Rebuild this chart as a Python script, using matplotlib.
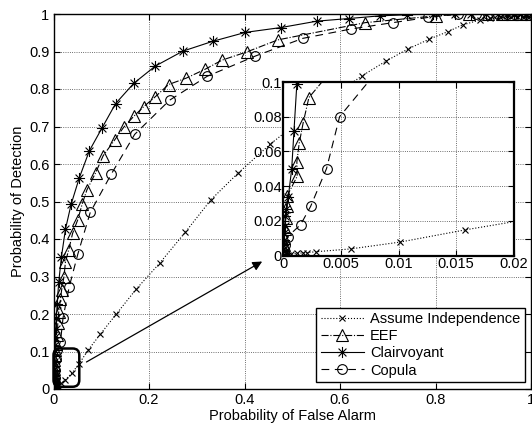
import matplotlib
matplotlib.use("Agg")
import matplotlib.pyplot as plt
from matplotlib.patches import FancyBboxPatch
from matplotlib.path import Path

plt.rcParams['font.family'] = ['Liberation Sans', 'DejaVu Sans']
plt.rcParams['font.size'] = 10.5

# ---- data ----
indep_x = [0, 0.00005, 0.0001, 0.0002, 0.0004, 0.0007, 0.0012, 0.0017, 0.0021, 0.0029, 0.00586,
           0.0101, 0.0158, 0.024, 0.039, 0.054, 0.0726, 0.098, 0.131, 0.173, 0.222, 0.276, 0.33,
           0.386, 0.454, 0.55, 0.646, 0.697, 0.743, 0.787, 0.826, 0.857, 0.893, 0.914, 0.935,
           0.95, 0.965, 0.978, 0.99, 1.0]
indep_y = [0, 0.0001, 0.0002, 0.0003, 0.0005, 0.0008, 0.0012, 0.0015, 0.0017, 0.0022, 0.0038,
           0.0077, 0.0148, 0.024, 0.043, 0.068, 0.104, 0.146, 0.199, 0.266, 0.335, 0.418, 0.505,
           0.575, 0.653, 0.75, 0.835, 0.875, 0.907, 0.933, 0.953, 0.971, 0.984, 0.989, 0.993,
           0.996, 0.998, 0.999, 1.0, 1.0]

eef_x = [0, 0.00003, 0.00006, 0.0001, 0.00015, 0.00025, 0.00037, 0.00037, 0.00123, 0.0012, 0.0014,
         0.00175, 0.00224, 0.004, 0.006, 0.008, 0.009, 0.011, 0.0146, 0.017, 0.022, 0.025, 0.032,
         0.040, 0.051, 0.060, 0.070, 0.088, 0.104, 0.128, 0.147, 0.168, 0.189, 0.212, 0.241,
         0.278, 0.318, 0.353, 0.405, 0.470, 0.653, 0.80, 0.87, 0.91, 0.94, 0.96, 0.98, 1.0]
eef_y = [0, 0.003, 0.006, 0.01, 0.015, 0.0215, 0.0283, 0.0345, 0.0457, 0.054, 0.0646,
         0.0766, 0.091, 0.105, 0.12, 0.145, 0.175, 0.206, 0.239, 0.264, 0.300, 0.339, 0.372,
         0.415, 0.452, 0.493, 0.531, 0.576, 0.622, 0.664, 0.698, 0.727, 0.753, 0.778, 0.812,
         0.829, 0.853, 0.877, 0.899, 0.931, 0.977, 0.995, 1.0, 1.0, 1.0, 1.0, 1.0, 1.0]

clair_x = [0, 0.00002, 0.00004, 0.00006, 0.0001, 0.00014, 0.0002, 0.0003, 0.00046, 0.00075,
           0.00095, 0.0012, 0.0018, 0.003, 0.0045, 0.006, 0.0077, 0.011, 0.0167, 0.025, 0.037,
           0.054, 0.075, 0.102, 0.130, 0.168, 0.213, 0.271, 0.333, 0.402, 0.477, 0.552, 0.619,
           0.683, 0.740, 0.795, 0.84, 0.875, 0.905, 0.93, 0.95, 0.965, 0.98, 0.99, 1.0]
clair_y = [0, 0.003, 0.006, 0.009, 0.013, 0.017, 0.0225, 0.027, 0.034, 0.0496,
           0.0718, 0.099, 0.115, 0.14, 0.16, 0.19, 0.228, 0.286, 0.353, 0.426, 0.493,
           0.563, 0.635, 0.697, 0.761, 0.815, 0.861, 0.901, 0.927, 0.951, 0.964, 0.981, 0.988,
           0.995, 0.998, 1.0, 1.0, 1.0, 1.0, 1.0, 1.0, 1.0, 1.0, 1.0, 1.0]

cop_x = [0, 0.00005, 0.0001, 0.0002, 0.0004, 0.00152, 0.00239, 0.00377, 0.0049, 0.008, 0.0146,
         0.020, 0.033, 0.051, 0.077, 0.121, 0.170, 0.243, 0.322, 0.423, 0.522, 0.623, 0.711,
         0.785, 0.848, 0.885, 0.91, 0.93, 0.95, 0.965, 0.98, 0.99, 1.0]
cop_y = [0, 0.0015, 0.003, 0.006, 0.0109, 0.0177, 0.0283, 0.0501, 0.080, 0.105, 0.126,
         0.19, 0.273, 0.36, 0.471, 0.573, 0.679, 0.77, 0.834, 0.888, 0.935, 0.96, 0.977,
         0.991, 1.0, 1.0, 1.0, 1.0, 1.0, 1.0, 1.0, 1.0, 1.0]

labels = ['Assume Independence', 'EEF', 'Clairvoyant', 'Copula']
main_xticks = [0, 0.2, 0.4, 0.6, 0.8, 1.0]
main_xticklabels = ['0', '0.2', '0.4', '0.6', '0.8', '1']
main_yticks = [0, 0.1, 0.2, 0.3, 0.4, 0.5, 0.6, 0.7, 0.8, 0.9, 1.0]
main_yticklabels = ['0', '0.1', '0.2', '0.3', '0.4', '0.5', '0.6', '0.7', '0.8', '0.9', '1']
ins_xticks = [0, 0.005, 0.01, 0.015, 0.02]
ins_xticklabels = ['0', '0.005', '0.01', '0.015', '0.02']
ins_yticks = [0, 0.02, 0.04, 0.06, 0.08, 0.1]
ins_yticklabels = ['0', '0.02', '0.04', '0.06', '0.08', '0.1']

# MATLAB-like asterisk marker (plus + cross, line segments only)
d = 0.7071
ast_path = Path([(-1, 0), (1, 0), (0, -1), (0, 1), (-d, -d), (d, d), (-d, d), (d, -d)],
                [Path.MOVETO, Path.LINETO] * 4)

fig = plt.figure(figsize=(5.32, 4.30), dpi=100)
ax = fig.add_axes([53.5 / 532, 1 - 389 / 430, 477.5 / 532, 375 / 430])


def draw(a):
    a.plot(indep_x, indep_y, ls=':', color='k', lw=0.8, marker='x', ms=5, mew=0.8,
           label=labels[0])
    a.plot(eef_x, eef_y, ls='-.', color='k', lw=0.8, marker='^', ms=8, mfc='none', mew=0.8,
           label=labels[1])
    a.plot(clair_x, clair_y, ls='-', color='k', lw=0.8, marker=ast_path, ms=8, mfc='none',
           mew=0.8, label=labels[2])
    a.plot(cop_x, cop_y, ls='--', dashes=(7, 5), color='k', lw=0.8, marker='o', ms=7,
           mfc='none', mew=0.8, label=labels[3])


def style(a):
    a.grid(True, ls=':', color='0.25', lw=0.6)
    a.tick_params(direction='in', top=True, right=True, length=4, width=0.8, labelsize=10.5, pad=3)
    for s in a.spines.values():
        s.set_linewidth(1.0)


draw(ax)
ax.set_xlim(0, 1)
ax.set_ylim(0, 1)
ax.set_xticks(main_xticks)
ax.set_xticklabels(main_xticklabels)
ax.set_yticks(main_yticks)
ax.set_yticklabels(main_yticklabels)
style(ax)
ax.set_xlabel('Probability of False Alarm', fontsize=10.5, labelpad=1)
ax.set_ylabel('Probability of Detection', fontsize=10.5, labelpad=3)

leg = ax.legend(loc='lower right', bbox_to_anchor=(0.987, 0.019), fancybox=False,
                edgecolor='k', framealpha=1, fontsize=10.5, handlelength=3.0,
                labelspacing=0.22, borderpad=0.3, handletextpad=0.4, borderaxespad=0)
leg.get_frame().set_linewidth(1.0)

box = FancyBboxPatch((0.0, 0.006), 0.054, 0.102,
                     boxstyle='round,pad=0,rounding_size=0.014', mutation_aspect=1.27,
                     fill=False, ec='k', lw=1.8, zorder=5, clip_on=False)
ax.add_patch(box)
ax.annotate('', xy=(0.437, 0.34), xytext=(0.069, 0.072),
            arrowprops=dict(arrowstyle='-|>', color='k', lw=0.9, mutation_scale=14,
                            shrinkA=0, shrinkB=0))

ins = fig.add_axes([283 / 532, 1 - 255.5 / 430, 231 / 532, 173.5 / 430])
ins.set_facecolor('white')
draw(ins)
ins.set_xlim(0, 0.02)
ins.set_ylim(0, 0.1)
ins.set_xticks(ins_xticks)
ins.set_xticklabels(ins_xticklabels)
ins.set_yticks(ins_yticks)
ins.set_yticklabels(ins_yticklabels)
style(ins)
for s in ins.spines.values():
    s.set_linewidth(1.6)
ins.tick_params(pad=1)

fig.savefig('out.png', dpi=100)
